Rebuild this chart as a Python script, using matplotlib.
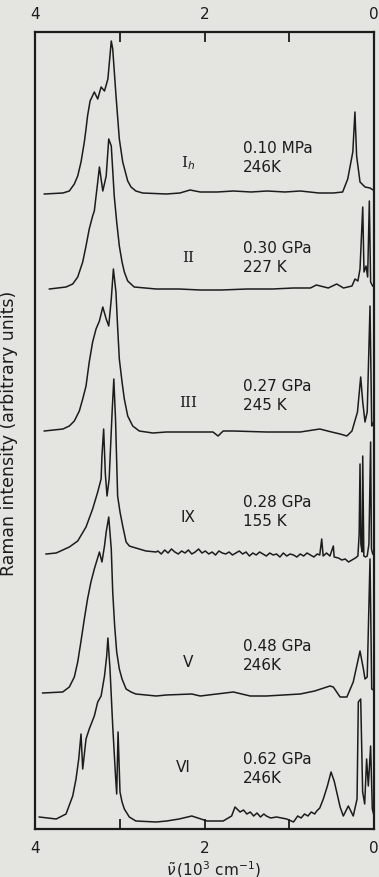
import matplotlib
matplotlib.use('Agg')
import matplotlib.pyplot as plt

# Raman spectra of ice phases, wavenumber in 10^3 cm^-1, intensity in arbitrary units
phases = ['I$_h$', 'II', 'III', 'IX', 'V', 'VI']
pressures = ['0.10 MPa', '0.30 GPa', '0.27 GPa', '0.28 GPa', '0.48 GPa', '0.62 GPa']
temperatures = ['246K', '227 K', '245 K', '155 K', '246K', '246K']
offsets = [635, 540, 398, 275, 136, 10]

wn_ih = [3.89, 3.67, 3.595, 3.536, 3.496, 3.457, 3.418, 3.398, 3.38, 3.35, 3.30, 3.26, 3.22,
         3.18, 3.14, 3.10, 3.083, 3.044, 3.005, 2.965, 2.934, 2.906, 2.867, 2.81, 2.73, 2.45,
         2.29, 2.17, 2.05, 1.85, 1.66, 1.45, 1.26, 1.05, 0.87, 0.65, 0.48, 0.37, 0.31, 0.25,
         0.225, 0.205, 0.165, 0.106, 0.047, 0.01]
int_ih = [0, 1, 3, 10, 18, 32, 52, 65, 78, 93, 102, 95, 107,
          103, 115, 153, 145, 98, 55, 32, 22, 13, 7, 3, 1, 0,
          1, 4, 2, 2, 3, 2, 3, 2, 3, 1, 1, 2, 15, 42,
          82, 38, 12, 7, 6, 4]

wn_ii = [3.83, 3.634, 3.555, 3.496, 3.437, 3.398, 3.36, 3.32, 3.30, 3.26, 3.24, 3.20, 3.16,
         3.13, 3.10, 3.065, 3.036, 3.005, 2.973, 2.946, 2.906, 2.83, 2.57, 2.30, 2.05, 1.80,
         1.50, 1.20, 0.95, 0.75, 0.68, 0.54, 0.44, 0.36, 0.26, 0.224, 0.19, 0.165, 0.133,
         0.118, 0.094, 0.075, 0.055, 0.04, 0.016]
int_ii = [0, 2, 5, 12, 27, 43, 60, 73, 78, 107, 122, 98, 113,
          150, 143, 93, 67, 43, 27, 17, 8, 2, 0, 0, -1, -1,
          0, 0, 1, 1, 4, 1, 5, 1, 3, 10, 8, 20, 82,
          17, 23, 12, 88, 7, 3]

wn_iii = [3.89, 3.67, 3.595, 3.536, 3.477, 3.437, 3.398, 3.36, 3.32, 3.28, 3.24, 3.20, 3.16,
          3.13, 3.10, 3.075, 3.045, 3.024, 3.005, 2.973, 2.946, 2.906, 2.847, 2.77, 2.61,
          2.45, 2.05, 1.90, 1.84, 1.78, 1.66, 1.27, 0.87, 0.64, 0.50, 0.40, 0.32, 0.26,
          0.195, 0.157, 0.133, 0.106, 0.08, 0.047, 0.027, 0.01]
int_iii = [0, 2, 5, 10, 20, 32, 45, 69, 89, 102, 110, 124, 112,
           105, 132, 162, 139, 102, 72, 49, 32, 15, 5, 0, -2,
           -1, -1, -1, -5, 0, 0, -1, -1, 2, -1, -3, -5, 0,
           19, 54, 29, 9, 19, 125, 5, 8]

wn_ix = [3.87, 3.75, 3.595, 3.496, 3.398, 3.32, 3.26, 3.22, 3.21, 3.19, 3.17, 3.15, 3.125,
         3.09, 3.07, 3.05, 3.025, 2.997, 2.965, 2.925, 2.887, 2.85, 2.69, 2.57,
         2.55, 2.51, 2.47, 2.43, 2.39, 2.35, 2.31, 2.27, 2.23, 2.19, 2.15, 2.11, 2.07, 2.03,
         1.99, 1.95, 1.91, 1.87, 1.83, 1.79, 1.75, 1.71, 1.67, 1.63, 1.59, 1.55, 1.51, 1.47,
         1.43, 1.39, 1.35, 1.31, 1.27, 1.23, 1.19, 1.15, 1.11, 1.07, 1.03, 0.99, 0.95, 0.91,
         0.87, 0.83, 0.79, 0.75, 0.71, 0.67,
         0.64, 0.617, 0.60, 0.56, 0.52, 0.48, 0.47, 0.42, 0.38, 0.34, 0.30, 0.26, 0.22, 0.19,
         0.175, 0.165, 0.155, 0.14, 0.133, 0.12, 0.10, 0.08, 0.06, 0.04, 0.03, 0.015]
int_ix = [0, 1, 7, 13, 27, 45, 62, 75, 98, 125, 80, 58, 75,
          142, 175, 135, 58, 42, 28, 12, 8, 7, 3, 2,
          3, 0, 4, 1, 5, 2, 0, 3, 1, 4, 0, 2, 5, 1,
          3, 0, 2, -1, 3, 1, 0, 2, -1, 1, 3, 0, 2, -2,
          1, -1, 2, 0, -2, 1, -1, 0, -3, 1, -2, 0, -1, -3,
          0, -2, 1, -1, -3, 0,
          -1, 15, -2, 1, -2, 8, -3, -4, -6, -5, -8, -6, -4, -2,
          20, 90, 10, 2, 98, -2, -3, -2, 10, 112, 5, 0]

wn_v = [3.91, 3.673, 3.595, 3.536, 3.496, 3.457, 3.418, 3.38, 3.34, 3.30, 3.24, 3.21, 3.18,
        3.16, 3.13, 3.10, 3.083, 3.06, 3.036, 3.005, 2.973, 2.925, 2.867, 2.81, 2.57, 2.45,
        2.15, 2.05, 1.66, 1.46, 1.27, 0.87, 0.70, 0.52, 0.48, 0.40, 0.32, 0.245, 0.165, 0.125,
        0.106, 0.08, 0.047, 0.027, -0.01]
int_v = [0, 1, 6, 16, 31, 52, 74, 94, 111, 124, 141, 131, 147,
         161, 176, 144, 101, 67, 41, 24, 14, 4, 1, -1, -3, -2,
         -1, -3, 1, -3, -3, -1, 2, 7, 6, -4, -4, 11, 42, 24,
         14, 16, 134, 4, 2]

wn_vi = [3.95, 3.75, 3.634, 3.555, 3.516, 3.484, 3.457, 3.437, 3.398, 3.36, 3.30, 3.26, 3.22,
         3.18, 3.154, 3.14, 3.115, 3.083, 3.05, 3.036, 3.02, 2.997, 2.973, 2.946, 2.887, 2.81,
         2.57, 2.446, 2.30, 2.15, 1.97, 1.78, 1.68, 1.64, 1.58, 1.54, 1.50, 1.46, 1.42, 1.38,
         1.34, 1.30, 1.27, 1.22, 1.15, 1.03, 0.95, 0.90, 0.86, 0.82, 0.78, 0.74, 0.70, 0.676,
         0.64, 0.598, 0.55, 0.507, 0.47, 0.44, 0.40, 0.362, 0.303, 0.245, 0.20, 0.185, 0.157,
         0.134, 0.11, 0.087, 0.067, 0.04, 0.02, -0.01]
int_vi = [2, 0, 5, 23, 40, 60, 85, 50, 80, 90, 103, 117, 123,
          143, 163, 181, 150, 93, 43, 25, 87, 27, 17, 10, 2, -2,
          -3, -2, 0, 3, -2, -2, 3, 12, 7, 9, 5, 7, 3, 6,
          2, 5, 3, 1, 2, 0, -3, 3, 1, 5, 3, 7, 5, 8,
          11, 20, 33, 47, 38, 27, 12, 3, 13, 3, 20, 117, 120,
          27, 15, 60, 33, 73, 10, 0]

spectra = [(wn_ih, int_ih), (wn_ii, int_ii), (wn_iii, int_iii),
           (wn_ix, int_ix), (wn_v, int_v), (wn_vi, int_vi)]

ink = '#1c1c1c'
paper = '#e4e4e1'

fig = plt.figure(figsize=(3.79, 8.78), dpi=100, facecolor=paper)
ax = fig.add_axes([35 / 379, 48 / 878, 339 / 379, 797 / 878])
ax.set_facecolor(paper)

for (wn, inten), off in zip(spectra, offsets):
    ax.plot(wn, [v + off for v in inten], color=ink, lw=1.1)

# labels for each phase
label_y = [667, 572, 427, 312, 167, 62]
label_x = [2.195, 2.195, 2.195, 2.195, 2.195, 2.25]
text_y = [672, 572, 434, 318, 174, 61]
serif_phase = {'I$_h$', 'II', 'III'}
for ph, p, t, lx, ly, ty in zip(phases, pressures, temperatures, label_x, label_y, text_y):
    fam = 'DejaVu Serif' if ph in serif_phase else 'DejaVu Sans'
    ax.text(lx, ly, ph, family=fam, fontsize=11, color=ink, ha='center', va='center')
    ax.text(1.545, ty, p + '\n' + t, fontsize=11, color=ink, ha='left', va='center',
            linespacing=1.35)

ax.set_xlim(4.0, 0.0)
ax.set_ylim(0, 797)
ax.set_xticks([4, 3, 2, 1, 0])
ax.set_xticklabels(['4', '', '2', '', '0'])
ax.set_yticks([])
ax.tick_params(axis='x', direction='in', length=7, width=1.3, top=True, labeltop=True,
               labelsize=11, colors=ink, pad=6)
ax.tick_params(axis='x', which='major', bottom=True, pad=8)
for s in ax.spines.values():
    s.set_linewidth(1.6)
    s.set_color(ink)

ax.set_xlabel(r'$\tilde{\nu}\,(10^3\ \mathrm{cm}^{-1})$', fontsize=11, color=ink)
ax.xaxis.set_label_coords(178 / 339, -29 / 797)
ax.set_ylabel('Raman intensity (arbitrary units)', fontsize=12.5, color=ink)
ax.yaxis.set_label_coords(-17 / 339, 397 / 797)

fig.savefig('out.png', dpi=100, facecolor=paper)
